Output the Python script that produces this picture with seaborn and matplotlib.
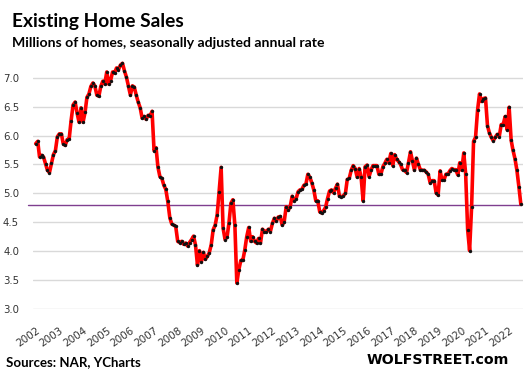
import matplotlib
matplotlib.use("Agg")
import matplotlib.pyplot as plt
import seaborn as sns
import pandas as pd
import numpy as np

# ---- data (monthly, millions, SAAR) ----
start_month = "2002-01-01"
sales = [
    # 2002
    5.86, 5.90, 5.63, 5.66, 5.63, 5.51, 5.40, 5.36, 5.52, 5.67, 5.74, 5.98,
    # 2003
    6.03, 6.03, 5.86, 5.83, 5.93, 5.94, 6.26, 6.53, 6.58, 6.39, 6.23, 6.48,
    # 2004
    6.23, 6.40, 6.66, 6.72, 6.85, 6.91, 6.86, 6.70, 6.68, 6.85, 6.94, 6.89,
    # 2005
    7.10, 6.89, 6.95, 7.10, 7.08, 7.17, 7.14, 7.22, 7.25, 7.12, 7.01, 6.86,
    # 2006
    6.70, 6.86, 6.84, 6.70, 6.58, 6.48, 6.30, 6.33, 6.28, 6.35, 6.34, 6.42,
    # 2007
    5.74, 5.79, 5.46, 5.29, 5.26, 5.14, 5.07, 4.86, 4.58, 4.47, 4.45, 4.43,
    # 2008
    4.17, 4.15, 4.17, 4.12, 4.14, 4.09, 4.15, 4.20, 4.26, 4.11, 3.76, 4.01,
    # 2009
    3.82, 3.98, 3.86, 3.91, 3.97, 4.11, 4.37, 4.45, 4.63, 5.03, 5.45, 4.40,
    # 2010
    4.20, 4.25, 4.48, 4.83, 4.89, 4.45, 3.45, 3.68, 3.84, 3.84, 4.02, 4.25,
    # 2011
    4.41, 4.17, 4.25, 4.17, 4.14, 4.22, 4.14, 4.38, 4.34, 4.34, 4.38, 4.34,
    # 2012
    4.48, 4.57, 4.52, 4.59, 4.60, 4.45, 4.51, 4.77, 4.71, 4.77, 4.95, 4.87,
    # 2013
    4.91, 5.03, 5.06, 5.07, 5.14, 5.16, 5.33, 5.28, 5.18, 5.06, 4.87, 4.87,
    # 2014
    4.68, 4.66, 4.70, 4.76, 4.91, 5.04, 5.06, 5.01, 5.09, 5.16, 4.95, 4.94,
    # 2015
    4.96, 5.00, 5.24, 5.26, 5.40, 5.48, 5.43, 5.28, 5.43, 5.28, 4.87, 5.46,
    # 2016
    5.49, 5.29, 5.40, 5.48, 5.48, 5.48, 5.33, 5.33, 5.46, 5.52, 5.59, 5.53,
    # 2017
    5.69, 5.48, 5.67, 5.59, 5.55, 5.50, 5.41, 5.40, 5.36, 5.53, 5.72, 5.56,
    # 2018
    5.40, 5.61, 5.51, 5.41, 5.40, 5.40, 5.37, 5.33, 5.18, 5.22, 5.22, 5.01,
    # 2019
    4.97, 5.39, 5.23, 5.23, 5.33, 5.33, 5.39, 5.43, 5.41, 5.41, 5.32, 5.53,
    # 2020
    5.40, 5.70, 5.34, 4.37, 4.01, 4.77, 5.90, 5.97, 6.44, 6.72, 6.59, 6.64,
    # 2021
    6.65, 6.17, 6.05, 5.97, 5.91, 5.97, 6.02, 5.98, 6.19, 6.19, 6.33, 6.10,
    # 2022
    6.49, 5.92, 5.75, 5.60, 5.40, 5.11, 4.81,
]
reference_level = 4.80
year_labels = [str(y) for y in range(2002, 2023)]
y_ticks = [3.0, 3.5, 4.0, 4.5, 5.0, 5.5, 6.0, 6.5, 7.0]

title = "Existing Home Sales"
subtitle = "Millions of homes, seasonally adjusted annual rate"
source = "Sources: NAR, YCharts"
brand = "WOLFSTREET.com"

df = pd.DataFrame({
    "date": pd.date_range(start_month, periods=len(sales), freq="MS"),
    "sales": sales,
})

sns.set_theme(style="white")
plt.rcParams["font.family"] = ["DejaVu Sans"]

W, H = 528, 378
fig = plt.figure(figsize=(W / 100, H / 100), dpi=100)

# axes placement (pixel based)
left_px, right_px = 33, 523
bottom_px, top_px = 309, 60.4
ax = fig.add_axes([left_px / W, 1 - bottom_px / H,
                   (right_px - left_px) / W, (bottom_px - top_px) / H])

ax.set_ylim(3.0, 7.3)
x0 = df["date"].iloc[0] - pd.Timedelta(days=42)
x1 = df["date"].iloc[-1] + pd.Timedelta(days=33)
ax.set_xlim(x0, x1)

for yv in y_ticks:
    ax.axhline(yv, color="#D9D9D9", lw=1.0, zorder=0)

# reference line
ax.plot([df["date"].iloc[0] - pd.Timedelta(days=114), df["date"].iloc[-1]],
        [reference_level, reference_level], color="#7F3F8F", lw=1.0,
        zorder=1, clip_on=False)

sns.lineplot(data=df, x="date", y="sales", ax=ax, color="#FF0000",
             linewidth=2.6, zorder=2, clip_on=False)
ax.scatter(df["date"], df["sales"], s=6, color="#111111", zorder=3,
           clip_on=False, linewidths=0)

for s in ax.spines.values():
    s.set_visible(False)

ax.set_yticks(y_ticks)
ax.set_yticklabels([f"{v:.1f}" for v in y_ticks], fontsize=7.3, color="#333333")
ticks = pd.date_range("2002-01-01", periods=len(year_labels), freq="YS")
ax.set_xticks(ticks)
ax.set_xticklabels(year_labels, rotation=35, ha="right",
                   rotation_mode="anchor", fontsize=7.5, color="#333333")
ax.tick_params(axis="both", length=0)
ax.tick_params(axis="y", pad=10)
ax.tick_params(axis="x", pad=12)
ax.set_xlabel("")
ax.set_ylabel("")
ax.grid(False)

fig.text(12 / W, 1 - 27 / H, title, fontsize=13.8, fontweight="bold",
         family=["Lato", "DejaVu Sans"], color="black", va="baseline")
fig.text(12 / W, 1 - 47 / H, subtitle, fontsize=10.1, fontweight="bold",
         family=["Lato", "DejaVu Sans"], color="black", va="baseline")
fig.text(6 / W, 1 - 366 / H, source, fontsize=9.5, fontweight="bold",
         family=["Lato", "DejaVu Sans"], color="black", va="baseline")
fig.text(509 / W, 1 - 364.5 / H, brand, fontsize=10.2, fontweight="bold",
         color="black", va="baseline", ha="right")

fig.savefig("out.png", dpi=100)
